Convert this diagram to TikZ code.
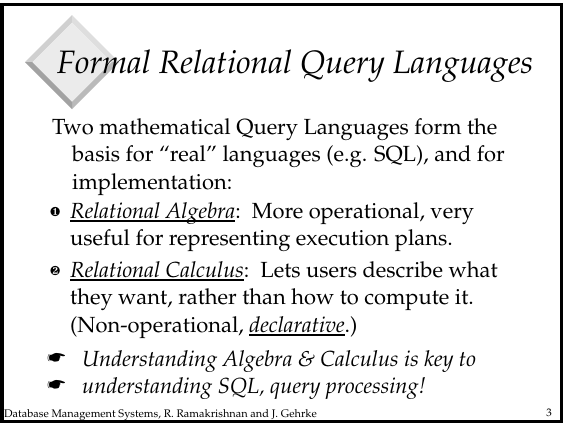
\documentclass[tikz,border=0pt]{standalone}
\usepackage[T1]{fontenc}
\usepackage{mathpazo}
\usepackage{pifont}
\definecolor{faceC}{HTML}{EBEBEB}
\definecolor{tlC}{HTML}{D0D0D0}
\definecolor{trC}{HTML}{DEDEDE}
\definecolor{blC}{HTML}{A2A2A2}
\definecolor{brC}{HTML}{BABABA}
\newcommand\myul[1]{\setbox0\hbox{#1}\rlap{\rule[-3.6pt]{\wd0}{1.5pt}}\box0}
\tikzset{
  bodytext/.style={anchor=base west, inner sep=0pt, font=\fontsize{21.9}{26}\selectfont},
  titletext/.style={anchor=base west, inner sep=0pt, font=\fontsize{32.4}{36}\selectfont\itshape},
  foottext/.style={anchor=base west, inner sep=0pt, font=\fontsize{11}{13}\selectfont},
  marktext/.style={anchor=base west, inner sep=0pt},
}
\begin{document}
\begin{tikzpicture}[x=1pt,y=-1pt]
\useasboundingbox (0,0) rectangle (564,424);
\fill[white] (0,0) rectangle (564,424);
\draw[line width=3.5pt] (2,4.5) rectangle (561.5,421.5);
% diamond with bevel
\coordinate (dL) at (25,62); \coordinate (dT) at (72,15);
\coordinate (dR) at (119,62); \coordinate (dB) at (72,109);
\coordinate (iL) at (32.5,62); \coordinate (iT) at (72,22.5);
\coordinate (iR) at (111.5,62); \coordinate (iB) at (72,101.5);
\fill[tlC] (dL) -- (dT) -- (iT) -- (iL) -- cycle;
\fill[trC] (dT) -- (dR) -- (iR) -- (iT) -- cycle;
\fill[brC] (dR) -- (dB) -- (iB) -- (iR) -- cycle;
\fill[blC] (dB) -- (dL) -- (iL) -- (iB) -- cycle;
\fill[faceC] (iL) -- (iT) -- (iR) -- (iB) -- cycle;
% title
\node[titletext] (title) at (57,73) {Formal Relational Query Languages};
% body
\node[bodytext] (l1) at (52,134) {Two mathematical Query Languages form the};
\node[bodytext] (l2) at (72,161.5) {basis for ``real'' languages (e.g. SQL), and for};
\node[bodytext] (l3) at (72,189) {implementation:};
\node[marktext, font=\fontsize{13}{15}\selectfont] (b1) at (50,216) {\ding{182}};
\node[bodytext] (l4) at (70,218) {\myul{\textit{Relational Algebra}}:\ \ More operational, very};
\node[bodytext] (l5) at (70,245.5) {useful for representing execution plans.};
\node[marktext, font=\fontsize{13}{15}\selectfont] (b2) at (50,275) {\ding{183}};
\node[bodytext] (l6) at (70,277) {\myul{\textit{Relational Calculus}}:\ \ Lets users describe what};
\node[bodytext] (l7) at (70,304.5) {they want, rather than how to compute it.};
\node[bodytext] (l8) at (70,332) {(Non-operational, \myul{\textit{declarative}}.)};
\node[marktext, font=\fontsize{19.5}{22}\selectfont] (h1) at (47,364.5) {\ding{42}};
\node[bodytext, font=\fontsize{21.9}{26}\selectfont\itshape] (l9) at (82,366) {Understanding Algebra \& Calculus is key to};
\node[marktext, font=\fontsize{19.5}{22}\selectfont] (h2) at (47,391.5) {\ding{42}};
\node[bodytext, font=\fontsize{21.9}{26}\selectfont\itshape] (l10) at (82,393) {understanding SQL, query processing!};
% footer
\node[foottext] (foot) at (4,417) {Database Management Systems, R. Ramakrishnan and J. Gehrke};
\node[foottext, anchor=base east] (page) at (552,416) {3};
\end{tikzpicture}
\end{document}
